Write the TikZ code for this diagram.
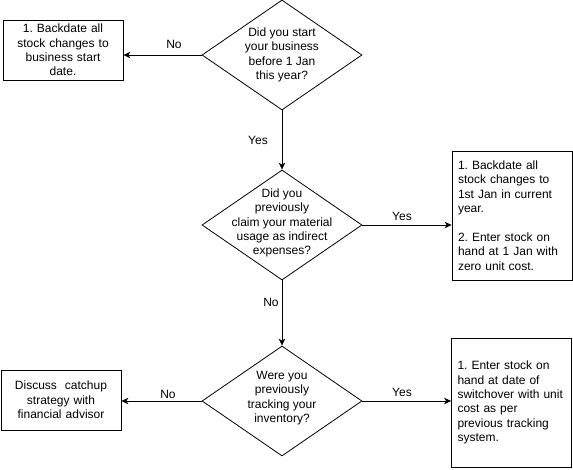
\documentclass[tikz,border=0pt]{standalone}
\usepackage{fontspec}
\setmainfont{Liberation Sans}
\usetikzlibrary{shapes.geometric,arrows.meta}
\begin{document}
\frenchspacing
\begin{tikzpicture}[x=1pt,y=-1pt,
  every node/.style={font=\fontsize{12pt}{14.4pt}\selectfont},
  dia/.style={draw,shape=diamond,minimum width=160pt,minimum height=110pt,inner sep=0pt,line width=0.8pt},
  dtext/.style={align=center,inner sep=0pt},
  cbox/.style={draw,line width=0.8pt,text width=108pt,inner xsep=6pt,inner ysep=0pt,align=center,minimum height=60pt},
  lbox/.style={draw,line width=0.8pt,text width=108pt,inner xsep=6pt,inner ysep=0pt,align=left},
  lab/.style={anchor=base,inner sep=0pt},
  arr/.style={line width=0.8pt,-{Stealth[length=7pt,width=6.5pt,inset=2pt]}}
]
\useasboundingbox (0,0) rectangle (573,469);
% diamonds
\node[dia] (d1) at (282,55) {};
\node[dtext] (t1) at (d1.center) {Did you start\\your business\\before 1 Jan\\this year?};
\node[dia] (d2) at (282,225) {};
\node[dtext] (t2) at ([yshift=2pt]d2.center) {Did you\\previously\\claim your material\\usage as indirect\\expenses?};
\node[dia] (d3) at (282,401) {};
\node[dtext] (t3) at ([yshift=3pt]d3.center) {Were you\\previously\\tracking your\\inventory?};
% boxes
\node[cbox] (b1) at (63,50) {1. Backdate all\\stock changes to\\business start\\date.};
\node[lbox,minimum height=129pt] (b2) at (512,215.5) {1. Backdate all\\stock changes to\\1st Jan in current\\year.\\[14.4pt]2. Enter stock on\\hand at 1 Jan with\\zero unit cost.};
\node[cbox] (b3) at (61,400) {Discuss\ \ catchup\\strategy with\\financial advisor};
\node[lbox,minimum height=129pt] (b4) at (511.5,402.5) {1. Enter stock on\\hand at date of\\switchover with unit\\cost as per\\previous tracking\\system.};
% connectors
\draw[arr] (d1.west) -- (d1.west -| b1.east);
\draw[arr] (d1.south) -- (d2.north);
\draw[arr] (d2.east) -- (d2.east -| b2.west);
\draw[arr] (d2.south) -- (d3.north);
\draw[arr] (d3.west) -- (d3.west -| b3.east);
\draw[arr] (d3.east) -- (d3.east -| b4.west);
% labels
\node[lab] (l1) at (174,48) {No};
\node[lab] (l2) at (258,144) {Yes};
\node[lab] (l3) at (402,220) {Yes};
\node[lab] (l4) at (271,306) {No};
\node[lab] (l5) at (168,398) {No};
\node[lab] (l6) at (402,396) {Yes};
\end{tikzpicture}
\end{document}
